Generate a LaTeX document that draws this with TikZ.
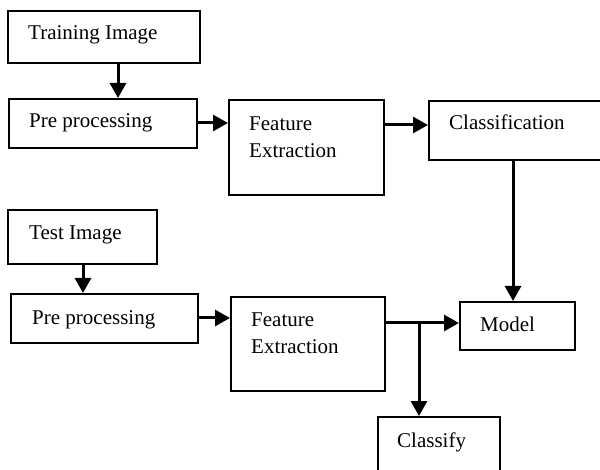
\documentclass[tikz,border=0pt]{standalone}
\usepackage{fontspec}
\setmainfont{Liberation Serif}
\usetikzlibrary{arrows.meta}

\begin{document}
\begin{tikzpicture}[x=1pt,y=-1pt,
  box/.style={draw=black, line width=1.6pt, rectangle, inner sep=0pt, anchor=north west},
  txt/.style={inner sep=0pt, anchor=base west, font=\fontsize{21}{27}\selectfont},
  arr/.style={line width=3pt, -{Triangle[length=15pt,width=16pt]}},
  link/.style={line width=3pt}]
\useasboundingbox (0,0) rectangle (600,470);
\clip (0,0) rectangle (600,470);

% training branch
\node[box, minimum width=192, minimum height=52] (train) at (7,10) {};
\node[box, minimum width=188, minimum height=49] (pre1) at (8,98) {};
\node[box, minimum width=155, minimum height=95] (fe1) at (228,99) {};
\node[box, minimum width=185, minimum height=59] (cls) at (428,100) {};

% test branch
\node[box, minimum width=149, minimum height=54] (test) at (7,209) {};
\node[box, minimum width=187, minimum height=49] (pre2) at (10,293) {};
\node[box, minimum width=154, minimum height=94] (fe2) at (230,296) {};
\node[box, minimum width=115, minimum height=48] (model) at (459,301) {};
\node[box, minimum width=122, minimum height=64] (classify) at (377,416) {};

% labels
\node[txt] (t1) at (28,40) {Training Image};
\node[txt] (t2) at (29,128) {Pre processing};
\node[txt] (t3a) at (249,131) {Feature};
\node[txt] (t3b) at (249,158) {Extraction};
\node[txt] (t4) at (449,130) {Classification};
\node[txt] (t5) at (29,240) {Test Image};
\node[txt] (t6) at (32,325) {Pre processing};
\node[txt] (t7a) at (251,327) {Feature};
\node[txt] (t7b) at (251,354) {Extraction};
\node[txt] (t8) at (480,332) {Model};
\node[txt] (t9) at (397,447) {Classify};

% connectors
\coordinate (tr) at (118,0);
\draw[arr] (train.south -| tr) -- (pre1.north -| tr);
\coordinate (r1) at (0,123);
\draw[arr] (pre1.east |- r1) -- (fe1.west |- r1);
\coordinate (r2) at (0,125);
\draw[arr] (fe1.east |- r2) -- (cls.west |- r2);
\coordinate (dn) at (513,0);
\draw[arr] (cls.south -| dn) -- (model.north -| dn);

\coordinate (te) at (83,0);
\draw[arr] (test.south -| te) -- (pre2.north -| te);
\coordinate (r3) at (0,318);
\draw[arr] (pre2.east |- r3) -- (fe2.west |- r3);
\coordinate (r4) at (0,323);
\draw[arr] (fe2.east |- r4) -- (model.west |- r4);
\coordinate (br) at (419,323);
\draw[arr] (br) -- (classify.north -| br);
\end{tikzpicture}
\end{document}
